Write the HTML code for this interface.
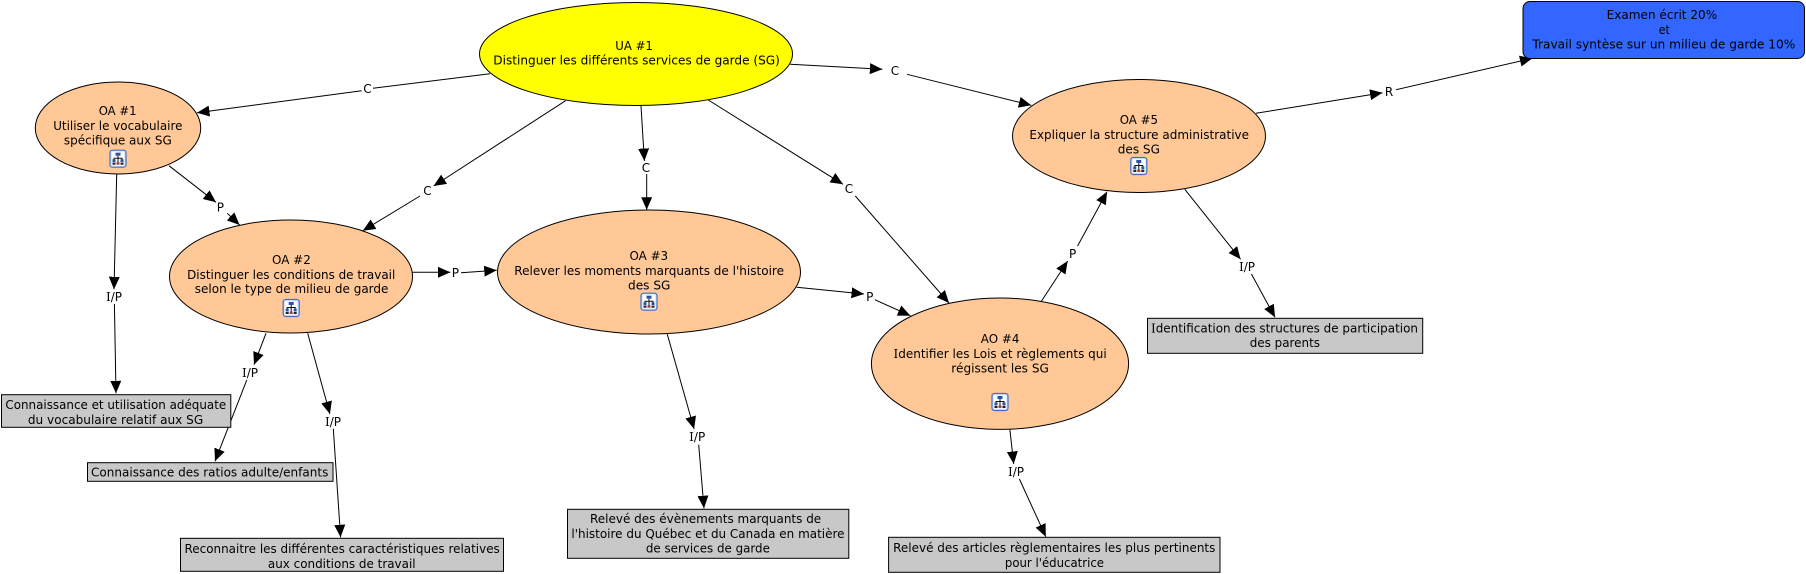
<!DOCTYPE html>
<html lang="fr">
<head>
<meta charset="utf-8">
<title>UA #1</title>
<style>
html,body{margin:0;padding:0;background:#fff;width:1806px;height:574px;overflow:hidden}
svg{display:block}
text{font-family:"DejaVu Sans","Liberation Sans",sans-serif;font-size:12px;fill:#000}
.l{text-anchor:middle}
.s{font-family:"DejaVu Serif","Liberation Serif",serif}
</style>
</head>
<body>
<svg width="1806" height="574" viewBox="0 0 1806 574" xmlns="http://www.w3.org/2000/svg">
<defs>
<marker id="a" markerUnits="userSpaceOnUse" markerWidth="13" markerHeight="12" refX="12.5" refY="5.5" orient="auto"><path d="M0,0 L12.5,5.5 L0,11 z" fill="#000"/></marker>
<g id="ic">
<rect x="-8" y="-8.5" width="16" height="17" rx="2.5" fill="#dfe9f8" stroke="#3f6fc0" stroke-width="1.2"/>
<rect x="-6" y="-6.5" width="12" height="13" fill="#fff"/>
<rect x="-2.5" y="-6" width="5" height="3" fill="#2f52a0"/>
<path d="M0,-3 V4 M-4,2 V-0.5 H4 V2" stroke="#111" stroke-width="1" fill="none"/>
<rect x="-5.5" y="0.5" width="3" height="3" fill="#2f52a0"/>
<rect x="2.5" y="0.5" width="3" height="3" fill="#2f52a0"/>
<rect x="-5.5" y="4" width="3" height="2" fill="#222"/>
<rect x="2.5" y="4" width="3" height="2" fill="#222"/>
<rect x="-1.5" y="3.5" width="3" height="2.5" fill="#a04040"/>
</g>
</defs>

<g stroke="#000" stroke-width="1" fill="none">
<line x1="490" y1="73.7" x2="373" y2="88.3"/>
<line x1="361.7" y1="90.7" x2="197" y2="112.7" marker-end="url(#a)"/>
<line x1="169" y1="165.7" x2="216" y2="202.3" marker-end="url(#a)"/>
<line x1="227.3" y1="213.3" x2="239.6" y2="225" marker-end="url(#a)"/>
<line x1="565.6" y1="100.7" x2="433.6" y2="186" marker-end="url(#a)"/>
<line x1="420" y1="196" x2="362.8" y2="230.7" marker-end="url(#a)"/>
<line x1="116.7" y1="174" x2="114" y2="289.3" marker-end="url(#a)"/>
<line x1="114.4" y1="304" x2="116" y2="393.3" marker-end="url(#a)"/>
<line x1="412.5" y1="272.3" x2="450.4" y2="272.3" marker-end="url(#a)"/>
<line x1="461" y1="272.7" x2="496.7" y2="270.3" marker-end="url(#a)"/>
<line x1="641" y1="106" x2="644.4" y2="161" marker-end="url(#a)"/>
<line x1="646.7" y1="174" x2="646.7" y2="209.7" marker-end="url(#a)"/>
<line x1="708.3" y1="100" x2="843" y2="184.3" marker-end="url(#a)"/>
<line x1="855.3" y1="196" x2="949" y2="303" marker-end="url(#a)"/>
<line x1="790.2" y1="64.3" x2="882.4" y2="69.3" marker-end="url(#a)"/>
<line x1="907" y1="74.3" x2="1031.3" y2="105.3" marker-end="url(#a)"/>
<line x1="796.7" y1="287.3" x2="864" y2="294" marker-end="url(#a)"/>
<line x1="874.8" y1="299.7" x2="910.4" y2="315.7" marker-end="url(#a)"/>
<line x1="1040.9" y1="302" x2="1067.7" y2="261" marker-end="url(#a)"/>
<line x1="1077.6" y1="246" x2="1107" y2="191.7" marker-end="url(#a)"/>
<line x1="1256" y1="113.3" x2="1382.5" y2="92.7" marker-end="url(#a)"/>
<line x1="1396" y1="89.7" x2="1532.4" y2="58.3" marker-end="url(#a)"/>
<line x1="1184.8" y1="189.3" x2="1240.6" y2="259.3" marker-end="url(#a)"/>
<line x1="1251.4" y1="274" x2="1275" y2="317.3" marker-end="url(#a)"/>
<line x1="266" y1="333.3" x2="254" y2="364.7" marker-end="url(#a)"/>
<line x1="246.8" y1="380" x2="215" y2="461.3" marker-end="url(#a)"/>
<line x1="307.7" y1="333.3" x2="329.9" y2="414" marker-end="url(#a)"/>
<line x1="333.3" y1="428.7" x2="340.6" y2="537.3" marker-end="url(#a)"/>
<line x1="667" y1="333.3" x2="694.1" y2="429" marker-end="url(#a)"/>
<line x1="698.7" y1="444.7" x2="704" y2="508.3" marker-end="url(#a)"/>
<line x1="1009.9" y1="429.7" x2="1013.7" y2="464" marker-end="url(#a)"/>
<line x1="1019.4" y1="479" x2="1045.8" y2="536.7" marker-end="url(#a)"/>
</g>

<g stroke="#000" stroke-width="1">
<ellipse cx="636" cy="54" rx="156.5" ry="51.5" fill="#ffff00"/>
<ellipse cx="118" cy="128" rx="82.7" ry="46" fill="#ffc896"/>
<ellipse cx="291" cy="276.5" rx="121.5" ry="56.5" fill="#ffc896"/>
<ellipse cx="649" cy="272" rx="151.5" ry="62" fill="#ffc896"/>
<ellipse cx="1139" cy="136" rx="126.5" ry="56.5" fill="#ffc896"/>
<ellipse cx="1000" cy="363.7" rx="128.6" ry="65.7" fill="#ffc896"/>
<rect x="1523" y="1.5" width="281.5" height="57" rx="7" fill="#3366ff"/>
<rect x="1.5" y="394.7" width="229.3" height="32.6" fill="#c8c8c8"/>
<rect x="87.5" y="462.7" width="245.5" height="18.6" fill="#c8c8c8"/>
<rect x="180.5" y="538.3" width="323" height="33" fill="#c8c8c8"/>
<rect x="567.5" y="509.3" width="281.3" height="49" fill="#c8c8c8"/>
<rect x="888.6" y="537.3" width="331.4" height="35" fill="#c8c8c8"/>
<rect x="1147.5" y="318.3" width="275.2" height="35" fill="#c8c8c8"/>
</g>

<use href="#ic" x="118" y="158.7"/>
<use href="#ic" x="291.2" y="308"/>
<use href="#ic" x="649" y="301.7"/>
<use href="#ic" x="1138.8" y="166"/>
<use href="#ic" x="1000" y="402"/>

<g>
<text x="615.3" y="49.8" textLength="37.5" lengthAdjust="spacingAndGlyphs">UA #1</text>
<text x="493.3" y="64.5" textLength="286.6" lengthAdjust="spacingAndGlyphs">Distinguer les différents services de garde (SG)</text>

<text x="98.7" y="115.2" textLength="37.9" lengthAdjust="spacingAndGlyphs">OA #1</text>
<text x="53.2" y="129.8" textLength="129.3" lengthAdjust="spacingAndGlyphs">Utiliser le vocabulaire</text>
<text x="63.9" y="144.5" textLength="107.9" lengthAdjust="spacingAndGlyphs">spécifique aux SG</text>

<text x="272" y="263.8" textLength="38.8" lengthAdjust="spacingAndGlyphs">OA #2</text>
<text x="187.1" y="278.8" textLength="208.2" lengthAdjust="spacingAndGlyphs">Distinguer les conditions de travail</text>
<text x="194.8" y="293.2" textLength="193.6" lengthAdjust="spacingAndGlyphs">selon le type de milieu de garde</text>

<text x="629.5" y="260.2" textLength="38.6" lengthAdjust="spacingAndGlyphs">OA #3</text>
<text x="514.3" y="274.8" textLength="269.7" lengthAdjust="spacingAndGlyphs">Relever les moments marquants de l'histoire</text>
<text x="628" y="289.5" textLength="42.4" lengthAdjust="spacingAndGlyphs">des SG</text>

<text x="1119.7" y="123.8" textLength="38.3" lengthAdjust="spacingAndGlyphs">OA #5</text>
<text x="1029.4" y="138.8" textLength="219.6" lengthAdjust="spacingAndGlyphs">Expliquer la structure administrative</text>
<text x="1117.8" y="153.5" textLength="42.1" lengthAdjust="spacingAndGlyphs">des SG</text>

<text x="980.8" y="342.8" textLength="38.6" lengthAdjust="spacingAndGlyphs">AO #4</text>
<text x="893.5" y="357.8" textLength="213.2" lengthAdjust="spacingAndGlyphs"><tspan class="s">I</tspan>dentifier les Lois et règlements qui</text>
<text x="951.3" y="372.5" textLength="97.6" lengthAdjust="spacingAndGlyphs">régissent les SG</text>

<text x="1606.6" y="19.2" textLength="110.6" lengthAdjust="spacingAndGlyphs">Examen écrit 20%</text>
<text x="1658.8" y="33.8" textLength="10.9" lengthAdjust="spacingAndGlyphs">et</text>
<text x="1532.4" y="48.5" textLength="262.9" lengthAdjust="spacingAndGlyphs">Travail syntèse sur un milieu de garde 10%</text>

<text x="5.4" y="409.2" textLength="220.8" lengthAdjust="spacingAndGlyphs">Connaissance et utilisation adéquate</text>
<text x="27.9" y="423.8" textLength="175.3" lengthAdjust="spacingAndGlyphs">du vocabulaire relatif aux SG</text>

<text x="91" y="476.5" textLength="237.4" lengthAdjust="spacingAndGlyphs">Connaissance des ratios adulte/enfants</text>

<text x="184.5" y="553.2" textLength="315.3" lengthAdjust="spacingAndGlyphs">Reconnaitre les différentes caractéristiques relatives</text>
<text x="267.9" y="567.8" textLength="147.7" lengthAdjust="spacingAndGlyphs">aux conditions de travail</text>

<text x="590" y="523.2" textLength="231.2" lengthAdjust="spacingAndGlyphs">Relevé des évènements marquants de</text>
<text x="571.4" y="537.8" textLength="273.1" lengthAdjust="spacingAndGlyphs">l'histoire du Québec et du Canada en matière</text>
<text x="645.9" y="552.5" textLength="124" lengthAdjust="spacingAndGlyphs">de services de garde</text>

<text x="893.1" y="551.8" textLength="322.3" lengthAdjust="spacingAndGlyphs">Relevé des articles règlementaires les plus pertinents</text>
<text x="1004.9" y="566.8" textLength="99.1" lengthAdjust="spacingAndGlyphs">pour l'éducatrice</text>

<text x="1151" y="332.5" textLength="267" lengthAdjust="spacingAndGlyphs"><tspan class="s">I</tspan>dentification des structures de participation</text>
<text x="1249.7" y="347.2" textLength="70.3" lengthAdjust="spacingAndGlyphs">des parents</text>
</g>

<g>
<text class="l" x="367.4" y="92.8">C</text>
<text class="l" x="220.4" y="211.5">P</text>
<text class="l" x="427.5" y="195.2">C</text>
<text class="l" x="114" y="301.2"><tspan class="s">I</tspan>/P</text>
<text class="l" x="455.4" y="277.2">P</text>
<text class="l" x="646" y="172.2">C</text>
<text class="l" x="849" y="193.2">C</text>
<text class="l" x="895" y="75.2">C</text>
<text class="l" x="869.8" y="300.8">P</text>
<text class="l" x="1072.6" y="258.2">P</text>
<text class="l" x="1389" y="96.2">R</text>
<text class="l" x="1247" y="271.2"><tspan class="s">I</tspan>/P</text>
<text class="l" x="250" y="377.2"><tspan class="s">I</tspan>/P</text>
<text class="l" x="333" y="425.8"><tspan class="s">I</tspan>/P</text>
<text class="l" x="697.2" y="441.2"><tspan class="s">I</tspan>/P</text>
<text class="l" x="1016" y="475.8"><tspan class="s">I</tspan>/P</text>
</g>
</svg>
</body>
</html>
